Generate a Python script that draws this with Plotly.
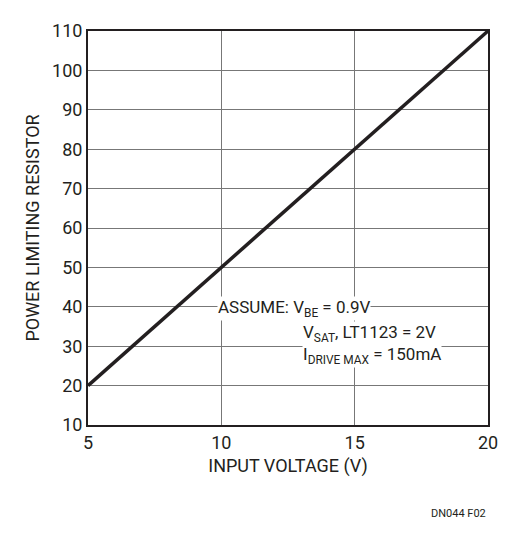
import plotly.graph_objects as go

input_voltage = [5, 20]
resistor = [20, 110]
x_ticks = [5, 10, 15, 20]
y_ticks = [10, 20, 30, 40, 50, 60, 70, 80, 90, 100, 110]

F = "Liberation Sans Narrow, Arial Narrow, Roboto, sans-serif"
fig = go.Figure(go.Scatter(x=input_voltage, y=resistor, mode="lines",
                           line=dict(color="#231f20", width=3.5)))
ax = dict(showline=True, linecolor="#231f20", linewidth=2, mirror=True,
          gridcolor="#777", gridwidth=1, zeroline=False, ticks="",
          tickfont=dict(size=18, color="#231f20", family=F))
fig.update_xaxes(range=[5, 20], tickvals=x_ticks, title=dict(text="INPUT VOLTAGE (V)", font=dict(size=18, family=F, color="#231f20"), standoff=8), **ax)
fig.update_yaxes(range=[10, 110], tickvals=y_ticks, title=dict(text="POWER LIMITING RESISTOR", font=dict(size=18, family=F, color="#231f20"), standoff=8), **ax)
tf = dict(size=17, family=F, color="#231f20")
for txt, px, py in [("ASSUME: V<sub>BE</sub> = 0.9V", 217, 307),
                    ("V<sub>SAT</sub>, LT1123 = 2V", 302, 332),
                    ("I<sub>DRIVE MAX</sub> = 150mA", 302, 355)]:
    fig.add_annotation(x=(px - 88) / 400, y=(425 - py) / 399, xref="paper", yref="paper",
                       text=txt, showarrow=False, xanchor="left", yanchor="middle",
                       font=tf, bgcolor="white", borderpad=0)
fig.add_annotation(x=1.0, y=-0.225, xref="paper", yref="paper", text="DN044 F02",
                   showarrow=False, xanchor="right", yanchor="middle",
                   font=dict(size=11, family=F, color="#231f20"))
fig.update_layout(width=513, height=535, margin=dict(l=80, r=33, t=18, b=118),
                  plot_bgcolor="white", paper_bgcolor="white", showlegend=False)
fig.write_html("out.html")
